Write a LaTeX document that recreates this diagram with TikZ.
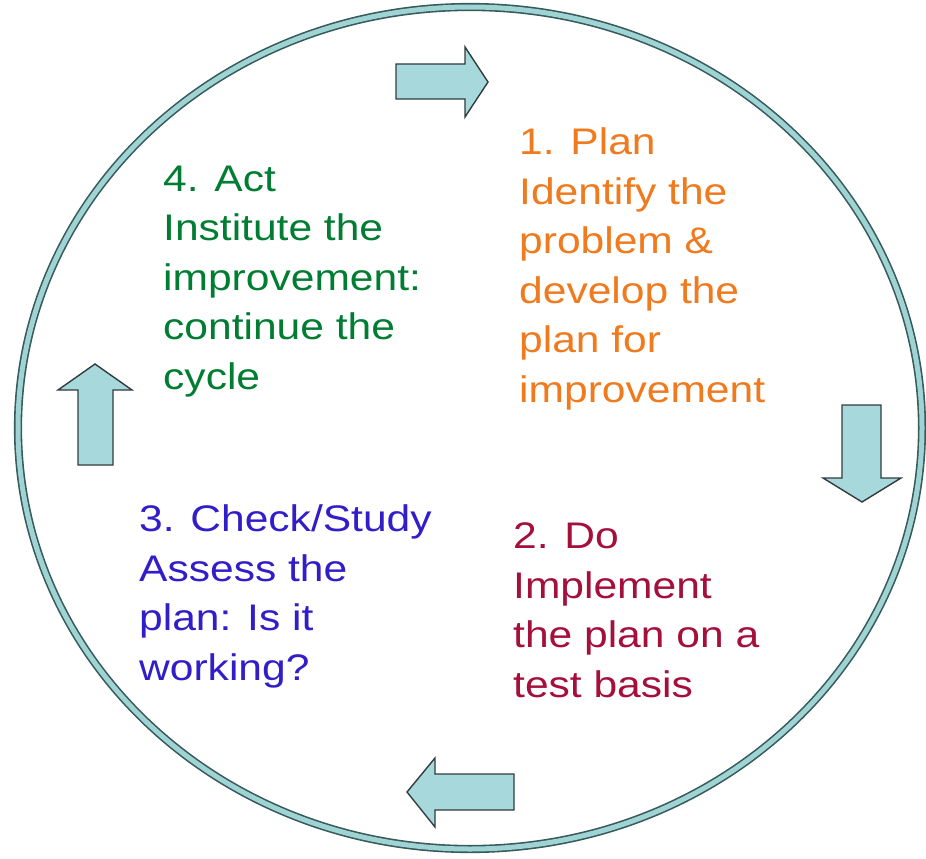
\documentclass[tikz,border=0pt]{standalone}
\usepackage{fontspec}
\newfontfamily\diagfont[FakeStretch=1.15]{Liberation Sans}
\definecolor{plancol}{RGB}{240,122,30}
\definecolor{docol}{RGB}{165,15,60}
\definecolor{checkcol}{RGB}{50,30,200}
\definecolor{actcol}{RGB}{0,125,50}
\definecolor{ringdark}{RGB}{55,90,90}
\definecolor{ringlight}{RGB}{160,212,212}
\definecolor{arrowfill}{RGB}{166,216,220}
\definecolor{arrowline}{RGB}{50,60,60}
\tikzset{
  ring/.style={draw=ringdark, line width=1.6pt, double=ringlight, double distance=5pt},
  blockarrow/.style={draw=arrowline, fill=arrowfill, line width=1.4pt, line join=miter},
  steptext/.style={anchor=base west, inner sep=0pt, align=left,
    font=\diagfont\fontsize{37}{49.5}\selectfont},
}
\begin{document}
\begin{tikzpicture}[x=1pt, y=-1pt]
\useasboundingbox[fill=white] (0,0) rectangle (926,859);
% cycle ring
\draw[ring] (470,428) ellipse [x radius=452pt, y radius=421pt];
% block arrows
\draw[blockarrow] (396,64) -- (465,64) -- (465,47) -- (488,82) -- (465,117) -- (465,99) -- (396,99) -- cycle;
\draw[blockarrow] (842,405) -- (881,405) -- (881,478) -- (901,478) -- (862,502) -- (823,478) -- (842,478) -- cycle;
\draw[blockarrow] (514,774) -- (435,774) -- (435,758) -- (407,792) -- (435,827) -- (435,810) -- (514,810) -- cycle;
\draw[blockarrow] (78,465) -- (78,390) -- (58,390) -- (95,364) -- (132,390) -- (113,390) -- (113,465) -- cycle;
% texts (base anchor = baseline of last line)
\node[steptext, text=plancol] (plan) at (519,402) {1. Plan\\Identify the\\problem \&\\develop the\\plan for\\improvement};
\node[steptext, text=docol] (do) at (513,697) {2. Do\\Implement\\the plan on a\\test basis};
\node[steptext, text=checkcol] (check) at (139,680) {3. Check/Study\\Assess the\\plan: Is it\\working?};
\node[steptext, text=actcol] (act) at (163,389) {4. Act\\Institute the\\improvement:\\continue the\\cycle};
\end{tikzpicture}
\end{document}
